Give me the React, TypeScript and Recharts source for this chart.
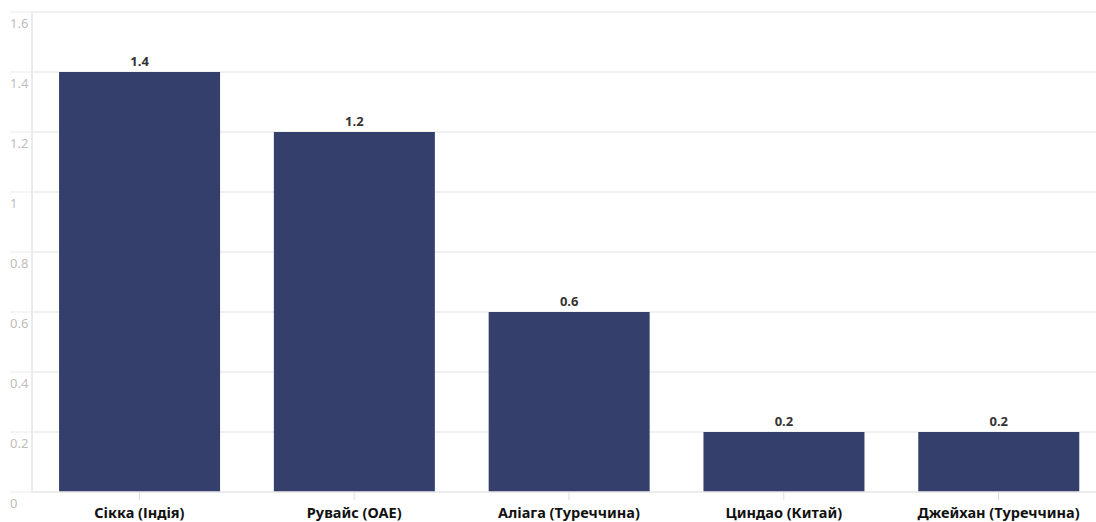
import React from "react";
import { BarChart, Bar, XAxis, YAxis, CartesianGrid, LabelList } from "recharts";

const categories = ["Сікка (Індія)", "Рувайс (ОАЕ)", "Аліага (Туреччина)", "Циндао (Китай)", "Джейхан (Туреччина)"];
const values = [1.4, 1.2, 0.6, 0.2, 0.2];
const yTicks = [0, 0.2, 0.4, 0.6, 0.8, 1, 1.2, 1.4, 1.6];

const data = categories.map((name, i) => ({ name, value: values[i] }));

const FONT = "'Source Sans Pro', 'Noto Sans', sans-serif";
const GRID = "#ebebeb";

function YTick(props: any) {
  const { x, y, payload } = props;
  return (
    <g>
      <line x1={10} x2={x + 8} y1={y} y2={y} stroke={GRID} strokeWidth={1} />
      <text x={10} y={y + 16} fill="#bdbdbd" fontSize={13} fontFamily={FONT}>
        {String(payload.value)}
      </text>
    </g>
  );
}

function XTick(props: any) {
  const { x, payload } = props;
  return (
    <text x={x} y={518} textAnchor="middle" fill="#111" fontSize={14.5} fontWeight={700} fontFamily={FONT}>
      {payload.value}
    </text>
  );
}

export default function App() {
  return (
    <div style={{ position: "fixed", left: 0, top: 0, width: 1096, height: 522, overflow: "hidden", background: "#fff" }}>
      <BarChart
        width={1106}
        height={522}
        data={data}
        margin={{ top: 12, right: 0, left: 0, bottom: 0 }}
        barCategoryGap="12.6%"
      >
        <CartesianGrid vertical={false} stroke={GRID} strokeWidth={1.5} />
        <YAxis
          width={32}
          domain={[0, 1.6]}
          ticks={yTicks}
          interval={0}
          axisLine={{ stroke: GRID, strokeWidth: 2 }}
          tickLine={false}
          tick={<YTick />}
        />
        <XAxis
          dataKey="name"
          height={30}
          interval={0}
          axisLine={{ stroke: GRID, strokeWidth: 1.5 }}
          tickLine={{ stroke: "#dcdcdc" }}
          tickSize={8}
          tick={<XTick />}
        />
        <Bar dataKey="value" fill="#343F6B" isAnimationActive={false}>
          <LabelList
            dataKey="value"
            position="top"
            offset={6}
            fill="#333"
            fontSize={13}
            fontWeight={700}
            fontFamily={FONT}
          />
        </Bar>
      </BarChart>
    </div>
  );
}
